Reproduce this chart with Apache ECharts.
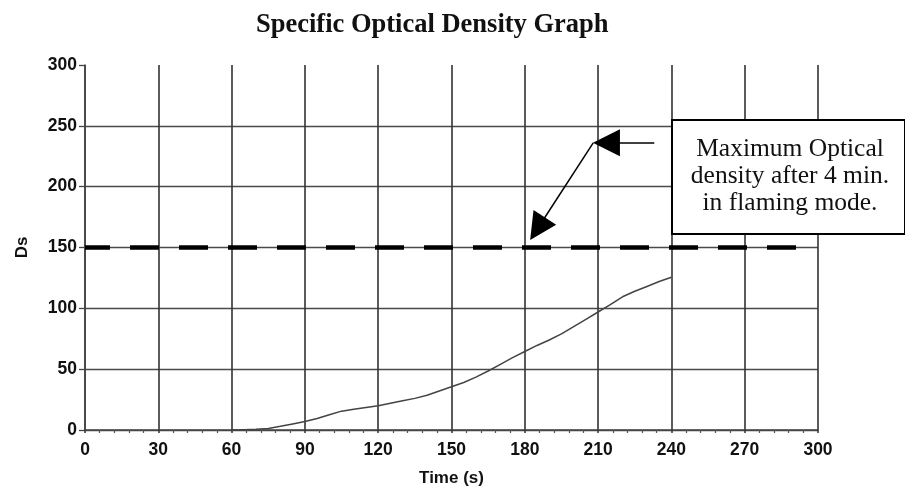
<!DOCTYPE html>
<html>
<head>
<meta charset="utf-8">
<script src="https://cdn.jsdelivr.net/npm/echarts@6/dist/echarts.min.js"></script>
<style>html,body{margin:0;padding:0;background:#fff;}#chart{width:905px;height:486px;}</style>
</head>
<body>
<div id="chart"></div>
<script>
// ---- data ----
const titleText = 'Specific Optical Density Graph';
const xName = 'Time (s)';
const yName = 'Ds';
const times = [60,65,70,75,80,85,90,95,100,105,110,115,120,125,130,135,140,145,150,155,160,165,170,175,180,185,190,195,200,205,210,215,220,225,230,235,240];
const ds    = [0,0.3,0.6,1.3,3,5,7,9.5,12.5,15.5,17,18.5,20,22,24,26,28.5,32,35.5,39,43.5,48.5,54,59.5,64.5,69.5,74,79,85,91,97,103,109.5,114,118,122,125.5];
const maxDs = 150;                 // dashed reference level
const maxLineEnd = 291.5;          // where the dashed line stops (s)
const noteLines = ['Maximum Optical', 'density after 4 min.', 'in flaming mode.'];
// arrow points in data coordinates [time, Ds] (arrow-head centres)
const arrowStart = [233, 236];
const arrowHead1 = [213.4, 236];
const arrowBend  = [208, 236];
const arrowHead2 = [185.2, 165.4];

const chart = echarts.init(document.getElementById('chart'), null, {renderer: 'canvas'});
const sans = 'Liberation Sans, Arial, sans-serif';
const serif = 'Liberation Serif, Times New Roman, serif';

const option = {
  animation: false,
  backgroundColor: '#fff',
  title: {
    text: titleText,
    left: 256, top: 12, padding: 0,
    textStyle: {fontFamily: serif, fontWeight: 'bold', fontSize: 26.5, color: '#111'}
  },
  grid: {left: 85, right: 87, top: 65, bottom: 56, containLabel: false, outerBoundsMode: 'none'},
  xAxis: {
    type: 'value', min: 0, max: 300, interval: 30,
    name: xName, nameLocation: 'middle', nameGap: 40,
    nameTextStyle: {fontFamily: sans, fontWeight: 'bold', fontSize: 17, color: '#111'},
    axisLine: {show: true, lineStyle: {color: '#444', width: 1.5}},
    axisTick: {show: true, length: 3, lineStyle: {color: '#333', width: 1.5}},
    minorTick: {show: true, splitNumber: 5, length: 3, lineStyle: {color: '#555', width: 1.2}},
    axisLabel: {margin: 11, fontFamily: sans, fontWeight: 'bold', fontSize: 17.5, color: '#111'},
    splitLine: {show: true, lineStyle: {color: '#333', width: 1.6}}
  },
  yAxis: {
    type: 'value', min: 0, max: 300, interval: 50,
    name: yName, nameLocation: 'middle', nameGap: 54,
    nameTextStyle: {fontFamily: sans, fontWeight: 'bold', fontSize: 17, color: '#111'},
    axisLine: {show: true, lineStyle: {color: '#444', width: 1.5}},
    axisTick: {show: true, length: 6, lineStyle: {color: '#444', width: 1.3}},
    axisLabel: {margin: 8, fontFamily: sans, fontWeight: 'bold', fontSize: 17.5, color: '#111'},
    splitLine: {show: true, lineStyle: {color: ['#4a4a4a','#4a4a4a','#4a4a4a','#4a4a4a','#4a4a4a','#4a4a4a','rgba(0,0,0,0)'], width: 1.3}}
  },
  series: [
    {
      type: 'line',
      data: times.map((t, i) => [t, ds[i]]),
      showSymbol: false, smooth: false,
      lineStyle: {color: '#444', width: 1.5},
      z: 3,
      markLine: {
        silent: true, animation: false,
        label: {show: false},
        data: [
          [{coord: [0, maxDs], symbol: 'none', lineStyle: {color: '#000', width: 4.5, type: [29, 20], dashOffset: 4}},
           {coord: [maxLineEnd, maxDs], symbol: 'none'}],
          [{coord: arrowStart, symbol: 'none', lineStyle: {color: '#000', width: 1.5, type: 'solid'}},
           {coord: arrowHead1, symbol: 'triangle', symbolSize: 27}],
          [{coord: arrowBend, symbol: 'none', lineStyle: {color: '#000', width: 1.5, type: 'solid'}},
           {coord: arrowHead2, symbol: 'triangle', symbolSize: 27}]
        ]
      }
    }
  ],
  graphic: [
    {type: 'rect', left: 671, top: 119, z: 100,
     shape: {x: 0, y: 0, width: 233, height: 114},
     style: {fill: '#fff', stroke: '#000', lineWidth: 2}},
    {type: 'text', x: 790, y: 176, z: 101,
     style: {text: noteLines.join('\n'), font: '25.5px ' + serif, fill: '#111',
             align: 'center', verticalAlign: 'middle', lineHeight: 27}}
  ]
};
chart.setOption(option);
</script>
</body>
</html>
